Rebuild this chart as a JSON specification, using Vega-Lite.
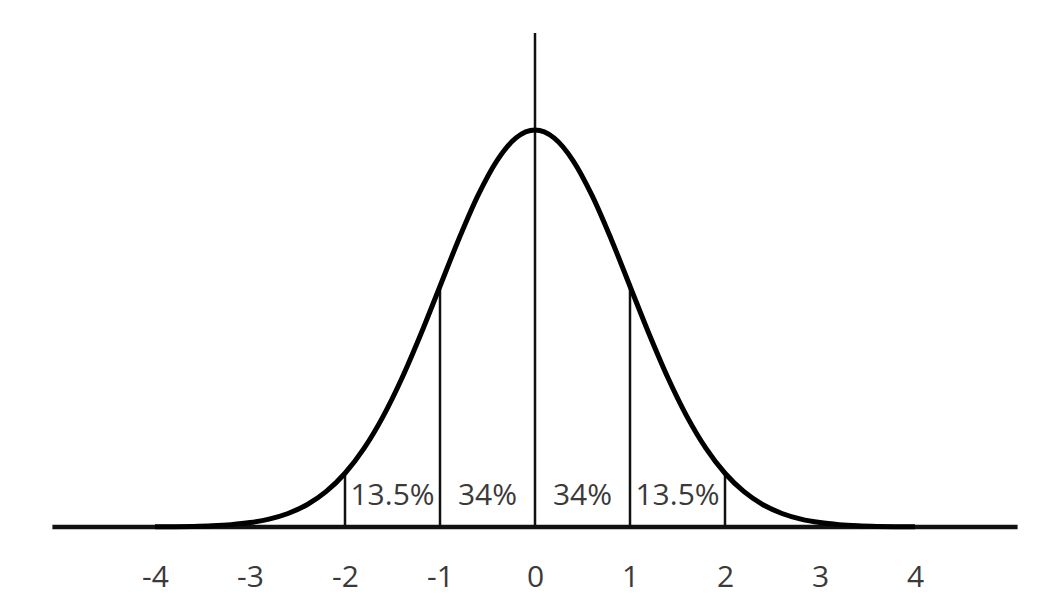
{
  "$schema": "https://vega.github.io/schema/vega-lite/v6.json",
  "width": 1037,
  "height": 600,
  "padding": 0,
  "autosize": {"type": "none"},
  "background": "white",
  "config": {"view": {"stroke": null}},
  "datasets": {
    "curve": [
      {"x": -4.0, "density": 0.000134}, {"x": -3.8, "density": 0.000292}, {"x": -3.6, "density": 0.000612},
      {"x": -3.4, "density": 0.001232}, {"x": -3.2, "density": 0.002384}, {"x": -3.0, "density": 0.004432},
      {"x": -2.8, "density": 0.007915}, {"x": -2.6, "density": 0.013583}, {"x": -2.4, "density": 0.022395},
      {"x": -2.2, "density": 0.035475}, {"x": -2.0, "density": 0.053991}, {"x": -1.8, "density": 0.07895},
      {"x": -1.6, "density": 0.110921}, {"x": -1.4, "density": 0.149727}, {"x": -1.2, "density": 0.194186},
      {"x": -1.0, "density": 0.241971}, {"x": -0.8, "density": 0.289692}, {"x": -0.6, "density": 0.333225},
      {"x": -0.4, "density": 0.36827}, {"x": -0.2, "density": 0.391043}, {"x": 0.0, "density": 0.398942},
      {"x": 0.2, "density": 0.391043}, {"x": 0.4, "density": 0.36827}, {"x": 0.6, "density": 0.333225},
      {"x": 0.8, "density": 0.289692}, {"x": 1.0, "density": 0.241971}, {"x": 1.2, "density": 0.194186},
      {"x": 1.4, "density": 0.149727}, {"x": 1.6, "density": 0.110921}, {"x": 1.8, "density": 0.07895},
      {"x": 2.0, "density": 0.053991}, {"x": 2.2, "density": 0.035475}, {"x": 2.4, "density": 0.022395},
      {"x": 2.6, "density": 0.013583}, {"x": 2.8, "density": 0.007915}, {"x": 3.0, "density": 0.004432},
      {"x": 3.2, "density": 0.002384}, {"x": 3.4, "density": 0.001232}, {"x": 3.6, "density": 0.000612},
      {"x": 3.8, "density": 0.000292}, {"x": 4.0, "density": 0.000134}
    ],
    "guides": [
      {"x": -2, "base": 0, "top": 0.053991},
      {"x": -1, "base": 0, "top": 0.241971},
      {"x": 0, "base": 0, "top": 0.4964},
      {"x": 1, "base": 0, "top": 0.241971},
      {"x": 2, "base": 0, "top": 0.053991}
    ],
    "labels": [
      {"x": -1.5, "base": 0, "label": "13.5%"},
      {"x": -0.5, "base": 0, "label": "34%"},
      {"x": 0.5, "base": 0, "label": "34%"},
      {"x": 1.5, "base": 0, "label": "13.5%"}
    ],
    "baseline": [
      {"x": -5.08, "x2": 5.08, "base": 0}
    ]
  },
  "layer": [
    {
      "data": {"name": "baseline"},
      "mark": {"type": "rule", "color": "#111111", "strokeWidth": 4.5, "strokeCap": "butt"},
      "encoding": {
        "x": {
          "field": "x",
          "type": "quantitative",
          "scale": {"domain": [-5.6316, 5.2842], "nice": false, "zero": false},
          "axis": {
            "values": [-4, -3, -2, -1, 0, 1, 2, 3, 4],
            "labelExpr": "'' + datum.value",
            "domain": false,
            "ticks": false,
            "grid": false,
            "title": null,
            "offset": -73,
            "labelFont": "Open Sans",
            "labelFontSize": 30,
            "labelColor": "#3a3a3a",
            "labelBaseline": "middle",
            "labelPadding": 50,
            "labelFlush": false,
            "labelOverlap": false
          }
        },
        "x2": {"field": "x2"},
        "y": {"field": "base", "type": "quantitative", "scale": {"domain": [-0.07336, 0.52959], "nice": false, "zero": false}, "axis": null}
      }
    },
    {
      "data": {"name": "guides"},
      "mark": {"type": "rule", "color": "#111111", "strokeWidth": 2.5},
      "encoding": {
        "x": {"field": "x", "type": "quantitative"},
        "y": {"field": "base", "type": "quantitative"},
        "y2": {"field": "top"}
      }
    },
    {
      "data": {"name": "curve"},
      "mark": {"type": "line", "color": "#000000", "strokeWidth": 5, "interpolate": "monotone"},
      "encoding": {
        "x": {"field": "x", "type": "quantitative"},
        "y": {"field": "density", "type": "quantitative"}
      }
    },
    {
      "data": {"name": "labels"},
      "mark": {"type": "text", "font": "Open Sans", "fontSize": 30, "color": "#3a3a3a", "baseline": "middle", "align": "center", "dy": -31},
      "encoding": {
        "x": {"field": "x", "type": "quantitative"},
        "y": {"field": "base", "type": "quantitative"},
        "text": {"field": "label"}
      }
    }
  ]
}
